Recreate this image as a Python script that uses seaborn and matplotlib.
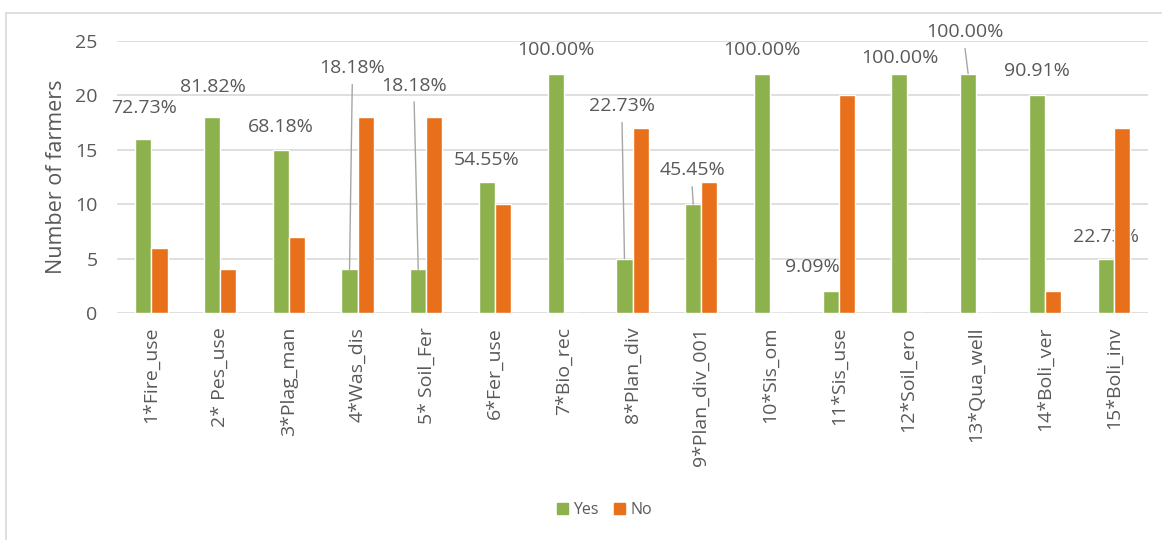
import matplotlib
matplotlib.use("Agg")
import matplotlib.pyplot as plt
import seaborn as sns
import pandas as pd
from matplotlib.patches import Rectangle

categories = ["1*Fire_use", "2* Pes_use", "3*Plag_man", "4*Was_dis", "5* Soil_Fer",
              "6*Fer_use", "7*Bio_rec", "8*Plan_div", "9*Plan_div_001", "10*Sis_om",
              "11*Sis_use", "12*Soil_ero", "13*Qua_well", "14*Boli_ver", "15*Boli_inv"]
yes_values = [16, 18, 15, 4, 4, 12, 22, 5, 10, 22, 2, 22, 22, 20, 5]
no_values = [6, 4, 7, 18, 18, 10, 0, 17, 12, 0, 20, 0, 0, 2, 17]
total_farmers = 22
series_names = ["Yes", "No"]

# label layout (offsets from the top of the Yes bar, in category / value units)
label_dx = [0.01, 0.015, 0.0, 0.04, -0.06, 0.0, 0.0, -0.035, -0.015, 0.0, -0.27, 0.0, -0.045, 0.0, 0.0]
label_dy = [2.8, 2.8, 2.1, 18.5, 16.9, 2.1, 2.2, 14.0, 3.1, 2.2, 2.2, 1.4, 3.8, 2.2, 2.0]
leader = [False, False, False, True, True, False, False, True, True, False, False, False, True, False, False]

sns.set_theme(style="white")
plt.rcParams["font.family"] = ["Open Sans", "DejaVu Sans"]

GREEN = "#8db14c"
ORANGE = "#e8701a"
TEXT = "#595959"
GRID = "#d9d9d9"

df = pd.DataFrame({
    "Category": categories * 2,
    "Response": [series_names[0]] * len(categories) + [series_names[1]] * len(categories),
    "Farmers": yes_values + no_values,
})

fig = plt.figure(figsize=(11.62, 5.40), dpi=100)
ax = fig.add_axes([0.1007, 0.4204, 0.8873, 0.5037])

sns.barplot(data=df, x="Category", y="Farmers", hue="Response",
            palette={"Yes": GREEN, "No": ORANGE}, width=0.47, saturation=1,
            ax=ax, legend=False, zorder=3)

ax.set_ylim(0, 25)
ax.set_xlim(-0.5, len(categories) - 0.5)
ax.set_yticks([0, 5, 10, 15, 20, 25])
ax.yaxis.grid(True, color=GRID, linewidth=1.2, zorder=0)
ax.set_axisbelow(True)
for s in ax.spines.values():
    s.set_visible(False)
ax.tick_params(axis="both", length=0, colors=TEXT)
ax.tick_params(axis="y", labelsize=14, pad=14)
ax.set_xticks(range(len(categories)))
ax.set_xticklabels(categories, rotation=90, fontsize=14, color=TEXT)
ax.tick_params(axis="x", pad=10)
ax.set_xlabel("")
ax.set_ylabel("Number of farmers", fontsize=15.5, color=TEXT, labelpad=6)

# data labels for Yes bars
bar_w = 0.47 / 2
for i, (y, dx, dy, ld) in enumerate(zip(yes_values, label_dx, label_dy, leader)):
    bx = i - bar_w / 2
    lx, ly = bx + dx, y + dy
    pct = y / total_farmers * 100
    ax.text(lx, ly, f"{pct:.2f}%", ha="center", va="center", fontsize=14,
            color=TEXT, zorder=2.5 if i == len(categories) - 1 else 5)
    if ld:
        ax.plot([lx, bx], [ly - 1.5, y], color="#a6a6a6", linewidth=1, zorder=4)

# legend
handles = [Rectangle((0, 0), 1, 1, color=GREEN), Rectangle((0, 0), 1, 1, color=ORANGE)]
fig.legend(handles, series_names, loc="center", bbox_to_anchor=(0.52, 0.055), ncol=2,
           frameon=False, handlelength=0.7, handleheight=0.7, handletextpad=0.3,
           columnspacing=1.0, fontsize=11.5, labelcolor=TEXT)

# chart-area border
fig.add_artist(Rectangle((6 / 1162, -0.1), 1.2, 0.1 + (540 - 13) / 540,
                         transform=fig.transFigure, fill=False,
                         edgecolor="#d9d9d9", linewidth=1.2))

fig.savefig("out.png", dpi=100, facecolor="white")
